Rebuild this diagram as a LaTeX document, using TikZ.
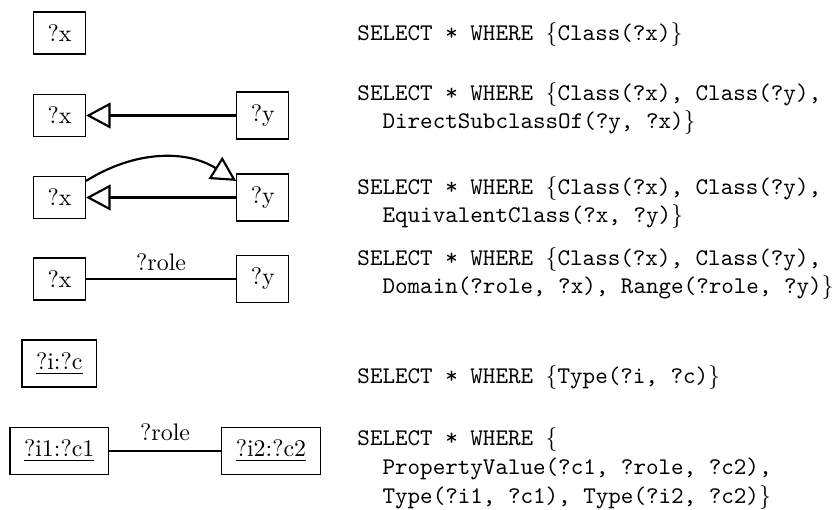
\documentclass[tikz,border=0pt]{standalone}
\usetikzlibrary{arrows.meta}
\begin{document}
\begin{tikzpicture}[x=0.41841pt, y=0.41841pt,
  cls/.style={draw, line width=0.5pt, inner xsep=5.85pt, inner ysep=5.25pt},
  edge/.style={line width=0.9pt},
  gen/.style={-{Triangle[open, length=10.3pt, width=10.8pt]}},
  rolelbl/.style={above, inner sep=3pt},
  q/.style={anchor=base west, inner sep=0pt, font=\ttfamily}]
\useasboundingbox (0,0) rectangle (832,-509);
% row 1
\node[cls] (x1) at (59.5,-33) {?x};
% row 2
\node[cls] (x2) at (59.5,-115.5) {?x};
\node[cls] (y2) at (262.7,-115.5) {?y};
\draw[edge, gen] (y2) -- (x2);
% row 3
\node[cls] (x3) at (59.5,-197.5) {?x};
\node[cls] (y3) at (262.7,-197.5) {?y};
\draw[edge, gen] (y3) -- (x3);
\draw[edge, gen] (x3) to[out=32, in=148] (y3);
% row 4
\node[cls] (x4) at (59.5,-279) {?x};
\node[cls] (y4) at (262.7,-279) {?y};
\draw[edge] (x4) -- node[rolelbl] (r4) {?role} (y4);
% row 5
\node[cls] (ic) at (59.3,-363.5) {\underline{?i:?c}};
% row 6
\node[cls] (ic1) at (59.2,-451) {\underline{?i1:?c1}};
\node[cls] (ic2) at (271,-451) {\underline{?i2:?c2}};
\draw[edge] (ic1) -- node[rolelbl, inner sep=4pt] (r6) {?role} (ic2);
% queries
\node[q] (t1) at (357,-40.7) {SELECT * WHERE $\{$Class(?x)$\}$};
\node[q] (t2a) at (357,-100) {SELECT * WHERE $\{$Class(?x), Class(?y),};
\node[q] (t2b) at (382.1,-128.7) {DirectSubclassOf(?y, ?x)$\}$};
\node[q] (t3a) at (357,-194) {SELECT * WHERE $\{$Class(?x), Class(?y),};
\node[q] (t3b) at (382.1,-222.7) {EquivalentClass(?x, ?y)$\}$};
\node[q] (t4a) at (357,-265) {SELECT * WHERE $\{$Class(?x), Class(?y),};
\node[q] (t4b) at (382.1,-293.7) {Domain(?role, ?x), Range(?role, ?y)$\}$};
\node[q] (t5) at (357,-383) {SELECT * WHERE $\{$Type(?i, ?c)$\}$};
\node[q] (t6a) at (357,-445.7) {SELECT * WHERE $\{$};
\node[q] (t6b) at (382.1,-474.4) {PropertyValue(?c1, ?role, ?c2),};
\node[q] (t6c) at (382.1,-503) {Type(?i1, ?c1), Type(?i2, ?c2)$\}$};
\end{tikzpicture}
\end{document}
